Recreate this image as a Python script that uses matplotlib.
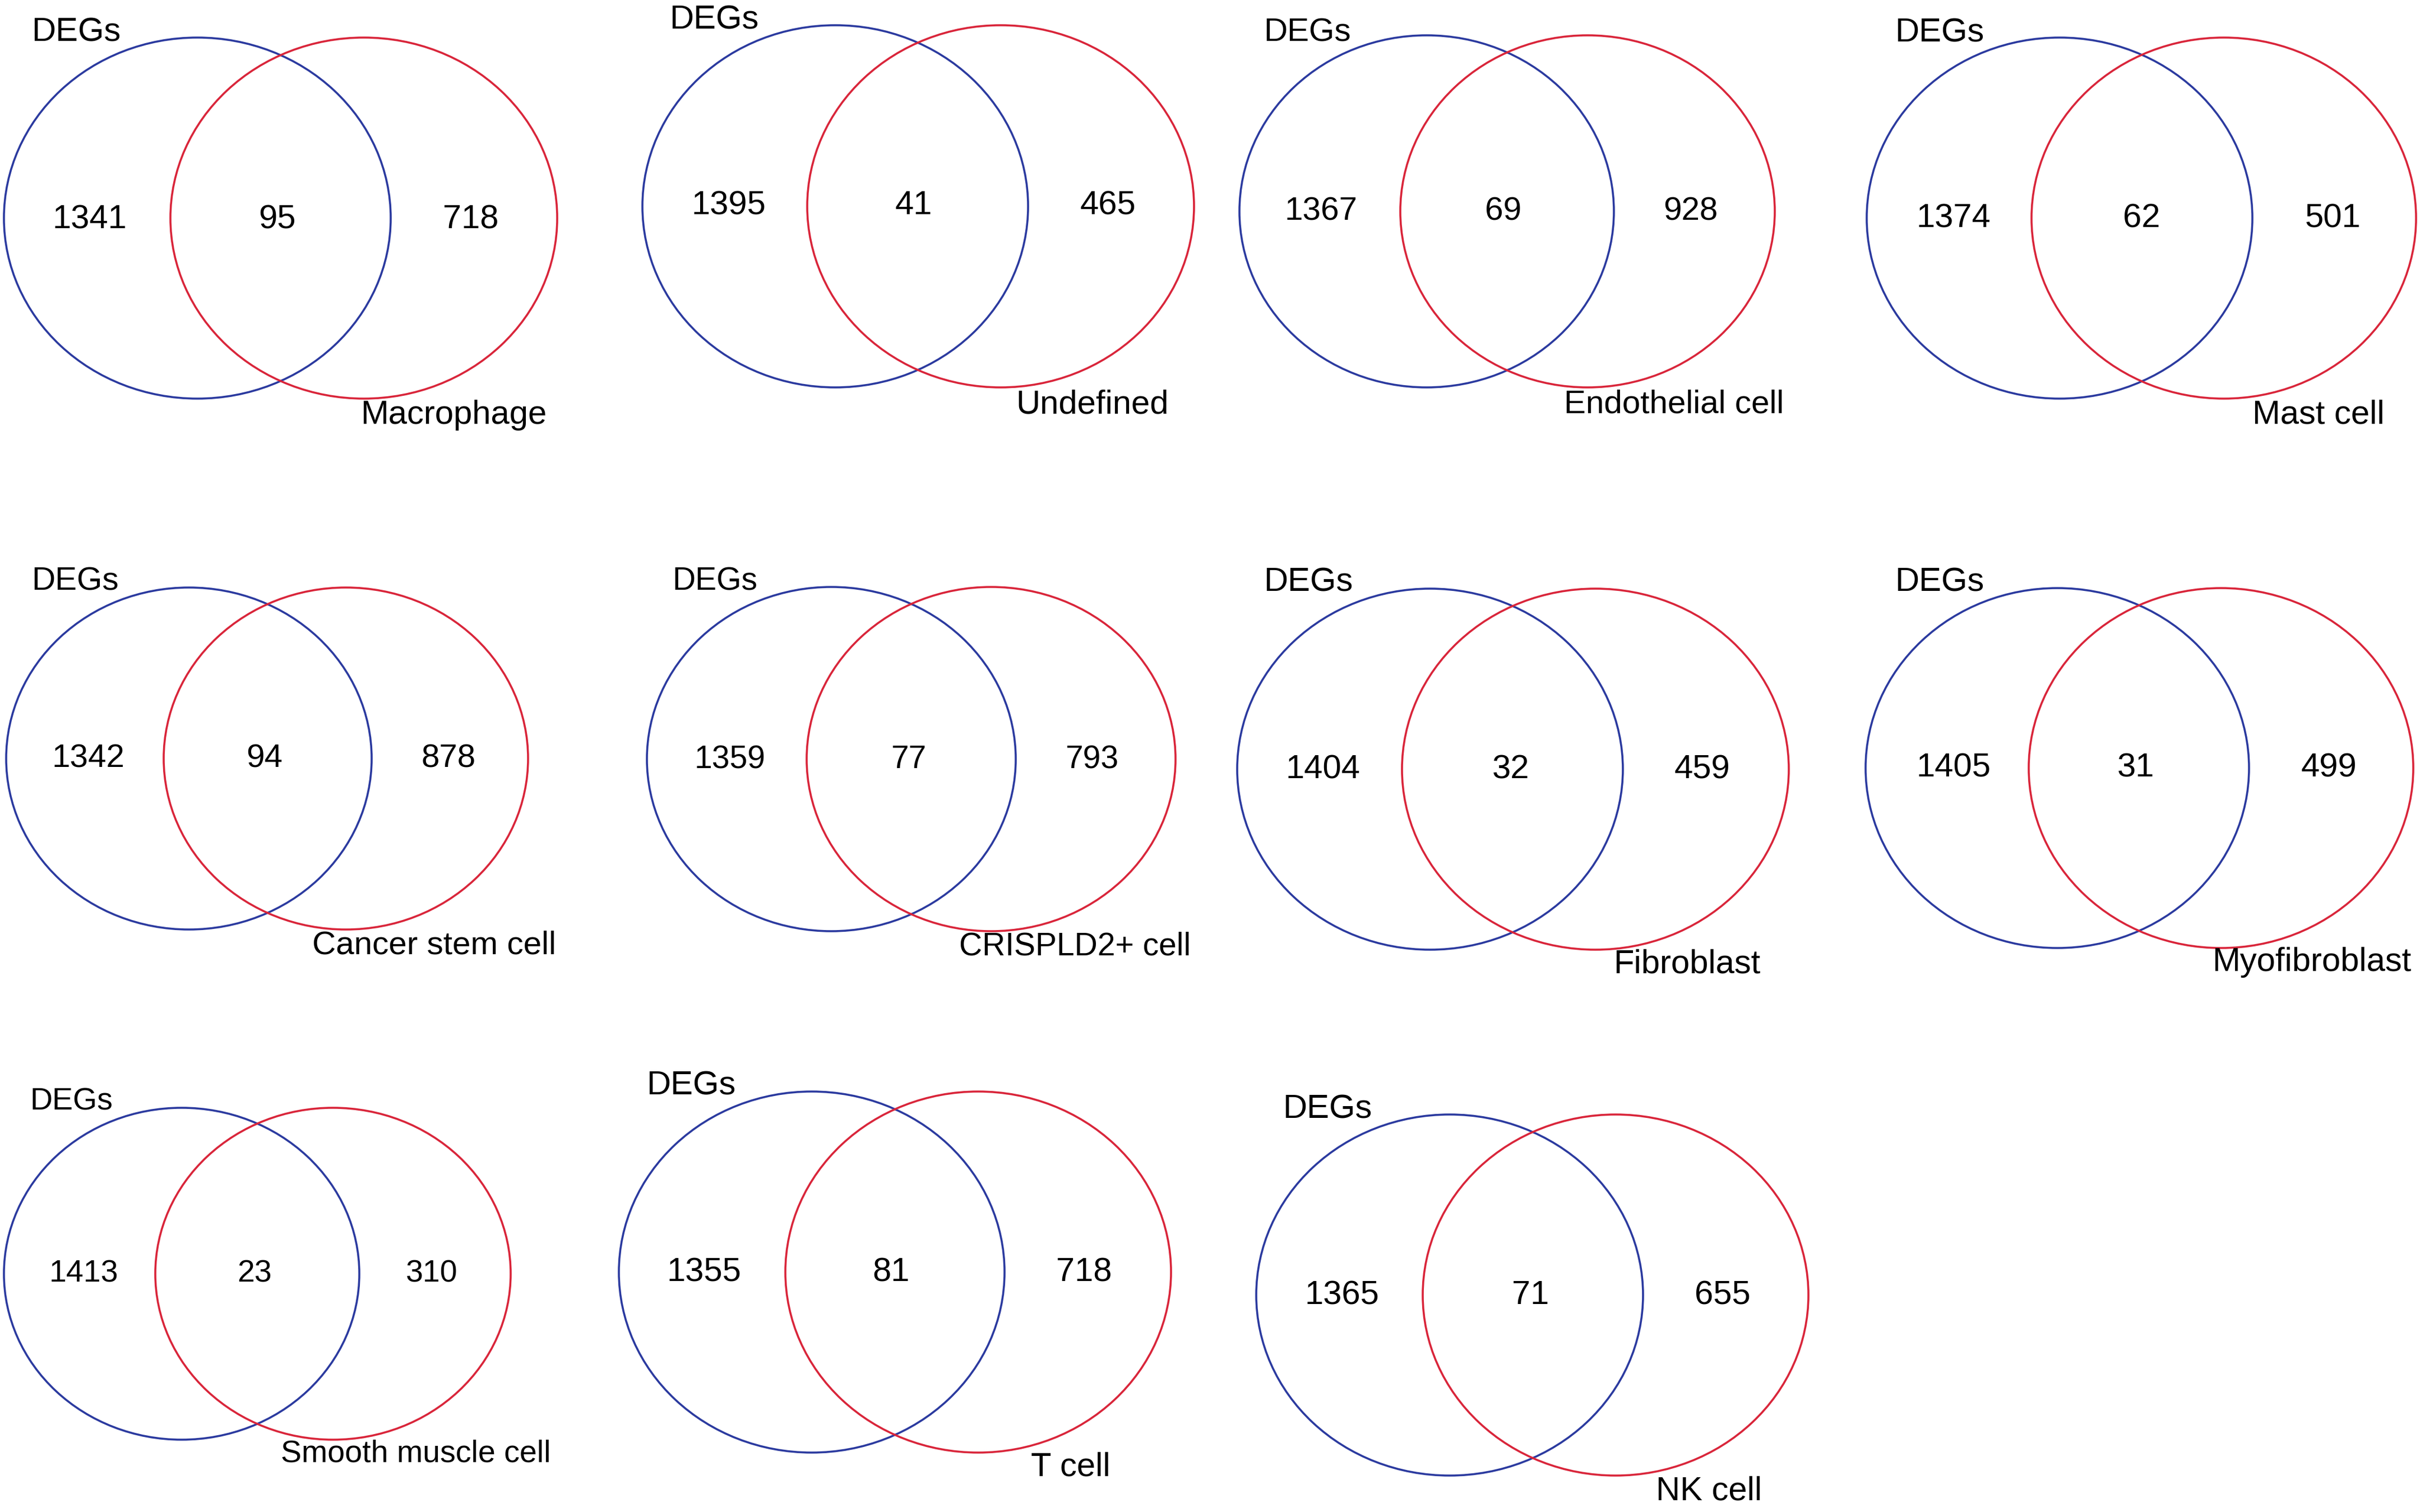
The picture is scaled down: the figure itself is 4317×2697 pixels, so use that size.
import matplotlib
matplotlib.use("Agg")
import matplotlib.pyplot as plt
from matplotlib.patches import Ellipse

plt.rcParams['font.family'] = ['Liberation Sans', 'DejaVu Sans']

# counts per Venn panel: DEGs only, overlap, cell type only
cell_types = ["Macrophage", "Undefined", "Endothelial cell", "Mast cell",
              "Cancer stem cell", "CRISPLD2+ cell", "Fibroblast", "Myofibroblast",
              "Smooth muscle cell", "T cell", "NK cell"]
degs_only = [1341, 1395, 1367, 1374, 1342, 1359, 1404, 1405, 1413, 1355, 1365]
shared = [95, 41, 69, 62, 94, 77, 32, 31, 23, 81, 71]
cell_only = [718, 465, 928, 501, 878, 793, 459, 499, 310, 718, 655]

# layout in pixels: blue (cx, cy, rx, ry), red cx, red rx,
# DEGs (x, y), number y, number xs, label (x, y), font size
layout = [
    (352, 389, 345, 322, 649, 345, (56, 52), 386, (160, 495, 840), (643, 740), 43),
    (1490, 368, 344, 323, 1785, 345, (1194, 30), 361, (1300, 1630, 1976), (1812, 722), 43),
    (2545, 377, 334, 314, 2832, 334, (2254, 53), 372, (2357, 2682, 3016), (2790, 721), 42),
    (3674, 389, 344, 322, 3967, 343, (3380, 53), 384, (3485, 3820, 4161), (4018, 740), 43),
    (337, 1353, 326, 305, 617, 325, (56, 1032), 1348, (157, 472, 800), (557, 1686), 42),
    (1483, 1354, 329, 307, 1768, 329, (1199, 1032), 1350, (1302, 1621, 1948), (1711, 1688), 41),
    (2551, 1372, 344, 322, 2846, 345, (2254, 1033), 1367, (2360, 2695, 3036), (2878, 1720), 43),
    (3670, 1370, 342, 321, 3962, 343, (3380, 1033), 1364, (3485, 3810, 4154), (3946, 1716), 43),
    (324, 2272, 317, 296, 594, 317, (53, 1960), 2267, (149, 454, 770), (501, 2594), 40),
    (1448, 2269, 344, 322, 1745, 344, (1153, 1931), 2264, (1256, 1590, 1934), (1839, 2617), 43),
    (2586, 2310, 345, 322, 2882, 344, (2288, 1973), 2305, (2394, 2730, 3073), (2954, 2660), 43),
]

W, H = 4317, 2697
fig = plt.figure(figsize=(W / 100, H / 100), dpi=100)
ax = fig.add_axes([0, 0, 1, 1])
ax.set_xlim(0, W)
ax.set_ylim(H, 0)
ax.axis('off')

blue = '#2b3a9f'
red = '#d9253a'

for i, name in enumerate(cell_types):
    bx, by, brx, bry, rcx, rrx, degs_xy, ny, nxs, lab_xy, fs = layout[i]
    ax.add_patch(Ellipse((bx, by), 2 * brx, 2 * bry, fill=False, ec=blue, lw=2.6))
    ax.add_patch(Ellipse((rcx, by), 2 * rrx, 2 * bry, fill=False, ec=red, lw=2.6))

    half_cap = 0.716 * fs / 0.72 / 2
    ax.text(degs_xy[0], degs_xy[1] + half_cap, "DEGs", fontsize=fs,
            ha='left', va='baseline')
    for x, v in zip(nxs, (degs_only[i], shared[i], cell_only[i])):
        ax.text(x, ny + half_cap, str(v), fontsize=fs, ha='center', va='baseline')
    ax.text(lab_xy[0], lab_xy[1], name, fontsize=fs, ha='left', va='center')

fig.savefig('out.png', dpi=100, facecolor='white')
